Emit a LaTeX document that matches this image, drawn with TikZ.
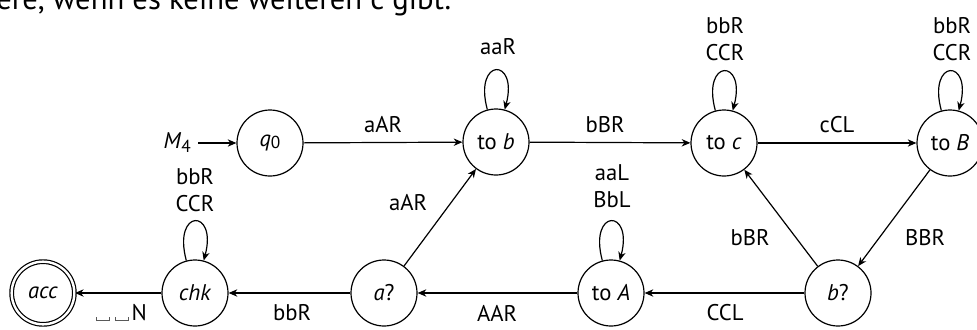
\documentclass[tikz,border=0pt]{standalone}
\usepackage{fontspec}
\setmainfont{PT Sans}
\usetikzlibrary{arrows.meta}
% blank tape symbol
\newcommand{\blanksym}{\kern0.12em{\color{black!65}\vrule height 0.38ex width 0.5pt\vrule height 0.5pt width 0.55em\vrule height 0.38ex width 0.5pt}\kern0.12em}
\begin{document}
\begin{tikzpicture}[x=0.75pt,y=-0.75pt,
  state/.style={draw,circle,line width=0.9pt,minimum size=49.5pt,inner sep=0pt,font=\fontsize{17}{20}\selectfont},
  accept/.style={state,double,double distance=1.8pt,minimum size=47pt},
  edge/.style={line width=0.9pt,-{Stealth[length=6.5pt,width=5.5pt,inset=2pt]}},
  selfloop/.style={edge,looseness=8,out=105,in=75},
  lbl/.style={inner sep=0pt,align=center,font=\fontsize{17}{20}\selectfont}]
\useasboundingbox (0,0) rectangle (977,329);
\clip (0,0) rectangle (977,329);

% line of running text above the figure
\node[anchor=base west,inner sep=0pt,font=\fontsize{23}{26}\selectfont] (txt) at (-4,9) {ere, wenn es keine weiteren c gibt.};

% states
\node[state] (q0)  at (270,143) {\textit{q}\raisebox{-0.2ex}{\fontsize{13}{13}\selectfont 0}};
\node[state] (tob) at (496,142) {to \textit{b}};
\node[state] (toc) at (724,143) {to \textit{c}};
\node[state] (toB) at (950,143) {to \textit{B}};
\node[accept] (acc) at (43,293) {\textit{acc}};
\node[state] (chk) at (195,293) {\textit{chk}};
\node[state] (aq)  at (384,293) {\textit{a}?};
\node[state] (toA) at (611,293) {to \textit{A}};
\node[state] (bq)  at (838,293) {\textit{b}?};

% start marker
\node[lbl,anchor=east] (m4) at (191,143) {\textit{M}\raisebox{-0.35ex}{\fontsize{13}{13}\selectfont 4}};
\coordinate (m4e) at (198,143);
\draw[edge] (m4e) -- (q0);

% transitions
\draw[edge] (q0) -- (tob);
\draw[edge] (tob) -- (toc);
\draw[edge] (toc) -- (toB);
\draw[edge] (toB) -- (bq);
\draw[edge] (bq) -- (toc);
\draw[edge] (bq) -- (toA);
\draw[edge] (toA) -- (aq);
\draw[edge] (aq) -- (tob);
\draw[edge] (aq) -- (chk);
\draw[edge] (chk) -- (acc);

% self loops
\draw[selfloop] (tob) to (tob);
\draw[selfloop] (toc) to (toc);
\draw[selfloop] (toB) to (toB);
\draw[selfloop] (toA) to (toA);
\draw[selfloop] (chk) to (chk);

% transition labels
\node[lbl] (l1) at (383,125) {aAR};
\node[lbl] (l2) at (605,125) {bBR};
\node[lbl] (l3) at (837,125) {cCL};
\node[lbl] (l4) at (498,47) {aaR};
\node[lbl] (l5) at (725,39) {bbR\\CCR};
\node[lbl] (l6) at (952,39) {bbR\\CCR};
\node[lbl] (l7) at (925,238) {BBR};
\node[lbl] (l8) at (750,238) {bBR};
\node[lbl] (l9) at (612,186) {aaL\\BbL};
\node[lbl] (l10) at (408,203) {aAR};
\node[lbl] (l11) at (725,313) {CCL};
\node[lbl] (l12) at (497,313) {AAR};
\node[lbl] (l13) at (292,313) {bbR};
\node[lbl] (l14) at (195,190) {bbR\\CCR};
\node[lbl] (l15) at (120,313) {\blanksym\blanksym N};
\end{tikzpicture}
\end{document}
